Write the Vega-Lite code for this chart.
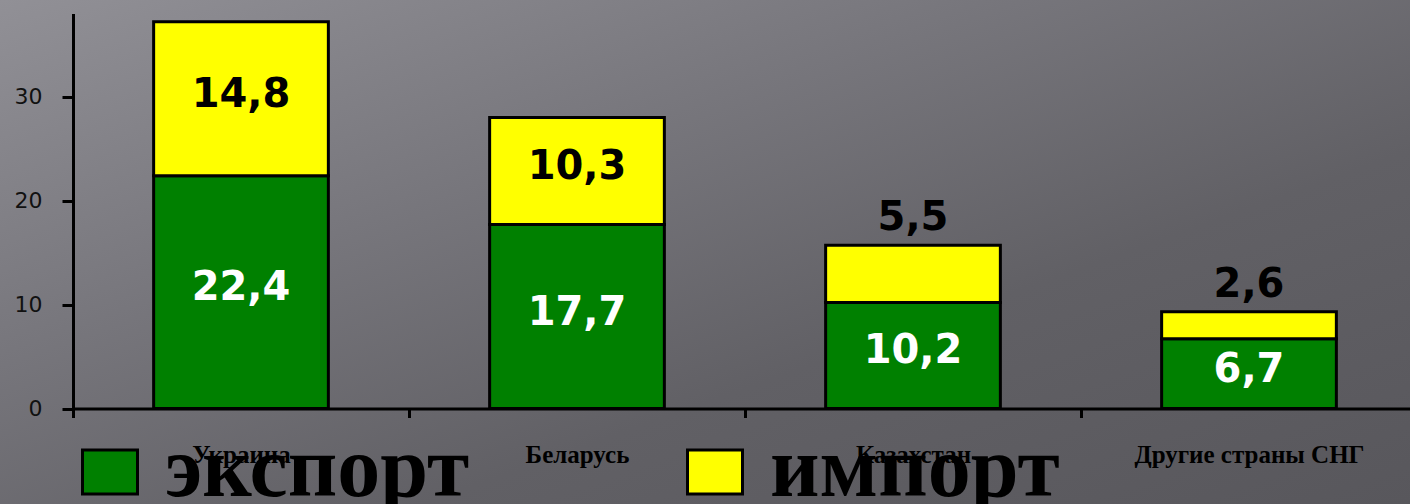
{
  "$schema": "https://vega.github.io/schema/vega-lite/v6.json",
  "width": 1410,
  "height": 504,
  "autosize": {"type": "none"},
  "padding": 0,
  "background": "#6b6a6f",
  "config": {
    "view": {
      "stroke": null,
      "fill": {
        "gradient": "linear",
        "x1": 0, "y1": 0, "x2": 1, "y2": 1,
        "stops": [
          {"offset": 0, "color": "#919096"},
          {"offset": 0.35, "color": "#77767c"},
          {"offset": 0.65, "color": "#616065"},
          {"offset": 1, "color": "#58575c"}
        ]
      }
    }
  },
  "data": {
    "values": [
      {"country": "Украина", "type": "экспорт", "value": 22.4, "label": "22,4"},
      {"country": "Украина", "type": "импорт", "value": 14.8, "label": "14,8"},
      {"country": "Беларусь", "type": "экспорт", "value": 17.7, "label": "17,7"},
      {"country": "Беларусь", "type": "импорт", "value": 10.3, "label": "10,3"},
      {"country": "Казахстан", "type": "экспорт", "value": 10.2, "label": "10,2"},
      {"country": "Казахстан", "type": "импорт", "value": 5.5, "label": "5,5"},
      {"country": "Другие страны СНГ", "type": "экспорт", "value": 6.7, "label": "6,7"},
      {"country": "Другие страны СНГ", "type": "импорт", "value": 2.6, "label": "2,6"}
    ]
  },
  "encoding": {
    "x": {
      "field": "country",
      "type": "nominal",
      "sort": null,
      "scale": {"range": [73, 1417], "paddingInner": 0, "paddingOuter": 0},
      "axis": {
        "title": null,
        "orient": "bottom",
        "offset": -95.5,
        "domainColor": "black",
        "domainWidth": 3,
        "tickColor": "black",
        "tickWidth": 3,
        "tickSize": 9,
        "tickBand": "extent",
        "labelFont": "Liberation Serif",
        "labelFontWeight": "bold",
        "labelFontSize": 25,
        "labelColor": "black",
        "labelPadding": 44.5,
        "labelBaseline": "alphabetic",
        "labelAngle": 0,
        "labelLimit": 1000,
        "labelOverlap": false,
        "grid": false
      }
    }
  },
  "layer": [
    {
      "mark": {"type": "bar", "stroke": "black", "strokeWidth": 3, "width": {"band": 0.52}},
      "encoding": {
        "y": {
          "field": "value",
          "type": "quantitative",
          "scale": {"domain": [0, 38], "range": [408.5, 13.5], "nice": false, "zero": true},
          "axis": {
            "title": null,
            "orient": "left",
            "offset": -73,
            "values": [0, 10, 20, 30],
            "domainColor": "black",
            "domainWidth": 3,
            "tickColor": "black",
            "tickWidth": 3,
            "tickSize": 11,
            "labelFont": "DejaVu Sans",
            "labelFontSize": 22,
            "labelColor": "#111111",
            "labelPadding": 20,
            "grid": false
          }
        },
        "color": {
          "field": "type",
          "type": "nominal",
          "scale": {"domain": ["экспорт", "импорт"], "range": ["#008000", "#ffff00"]},
          "legend": {
            "orient": "none",
            "legendX": 67,
            "legendY": 429,
            "direction": "horizontal",
            "title": null,
            "symbolType": "M-1.25,-1H1.25V1H-1.25Z",
            "symbolSize": 1936,
            "symbolStrokeColor": "black",
            "symbolStrokeWidth": 3,
            "symbolOpacity": 1,
            "labelFont": "Liberation Serif",
            "labelFontWeight": "bold",
            "labelFontSize": 86,
            "labelColor": "black",
            "labelBaseline": "alphabetic",
            "labelOffset": 12,
            "labelLimit": 1000,
            "columnPadding": 202,
            "encode": {"labels": {"update": {"dy": {"value": 24}}}}
          }
        },
        "order": {"field": "type", "sort": "descending"}
      }
    },
    {
      "transform": [
        {"stack": "value", "groupby": ["country"], "sort": [{"field": "type", "order": "descending"}], "as": ["v0", "v1"]},
        {"calculate": "(datum.v0 + datum.v1) / 2", "as": "mid"},
        {"filter": "datum.type === 'экспорт' || datum.value > 8"}
      ],
      "mark": {"type": "text", "font": "DejaVu Sans", "fontWeight": "bold", "fontSize": 40, "baseline": "middle", "dy": -4},
      "encoding": {
        "y": {"field": "mid", "type": "quantitative", "scale": {"domain": [0, 38], "range": [408.5, 13.5], "nice": false, "zero": true}},
        "text": {"field": "label"},
        "color": {"condition": {"test": "datum.type === 'экспорт'", "value": "white"}, "value": "black"}
      }
    },
    {
      "transform": [
        {"stack": "value", "groupby": ["country"], "sort": [{"field": "type", "order": "descending"}], "as": ["v0", "v1"]},
        {"filter": "datum.type === 'импорт' && datum.value <= 8"}
      ],
      "mark": {"type": "text", "font": "DejaVu Sans", "fontWeight": "bold", "fontSize": 40, "baseline": "alphabetic", "dy": -15, "color": "black"},
      "encoding": {
        "y": {"field": "v1", "type": "quantitative", "scale": {"domain": [0, 38], "range": [408.5, 13.5], "nice": false, "zero": true}},
        "text": {"field": "label"}
      }
    }
  ]
}
